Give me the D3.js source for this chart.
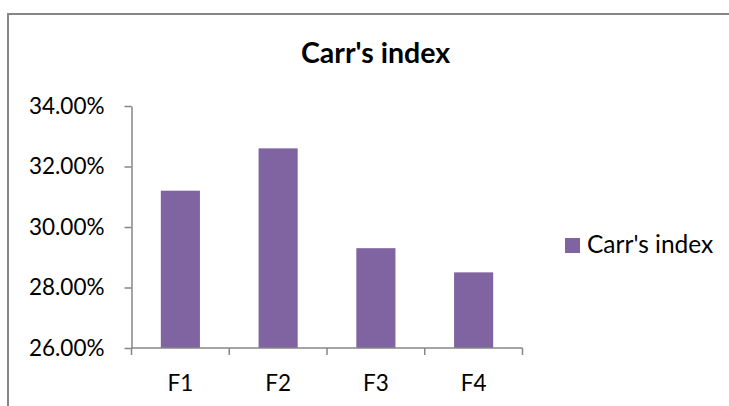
<!DOCTYPE html>
<html>
<head>
<meta charset="utf-8">
<script src="https://cdn.jsdelivr.net/npm/d3@7"></script>
<style>
  body { margin: 0; background: white; }
  text { font-family: Lato, "Open Sans", sans-serif; fill: #000; }
</style>
</head>
<body>
<div id="chart"></div>
<script>
const categories = ["F1", "F2", "F3", "F4"];
const carrValues = [31.2, 32.6, 29.3, 28.5];
const yTicks = [26, 28, 30, 32, 34];
const seriesName = "Carr's index";
const chartTitle = "Carr's index";

const w = 729;
const h = 406;
const plotLeft = 131.5;
const plotRight = 522.5;
const plotTop = 106;
const plotBottom = 348;
const axisColor = "#868686";
const barColor = "#8064A2";

const svg = d3.select("#chart")
  .append("svg")
  .attr("width", w)
  .attr("height", h);

// outer frame (left + top only visible)
svg.append("path")
  .attr("d", `M8,${h} L8,14 L${w},14`)
  .attr("fill", "none")
  .attr("stroke", axisColor)
  .attr("stroke-width", 2);

svg.append("text")
  .attr("x", 375.5)
  .attr("y", 63)
  .attr("text-anchor", "middle")
  .style("font-size", "28.5px")
  .style("font-weight", "bold")
  .text(chartTitle);

const x = d3.scaleBand()
  .domain(categories)
  .range([plotLeft, plotRight])
  .paddingInner(0.6)
  .paddingOuter(0.3);

const y = d3.scaleLinear()
  .domain([26, 34])
  .range([plotBottom, plotTop]);

svg.selectAll("rect.bar")
  .data(carrValues)
  .enter()
  .append("rect")
  .attr("class", "bar")
  .attr("x", (d, i) => x(categories[i]))
  .attr("y", d => y(d))
  .attr("width", x.bandwidth())
  .attr("height", d => y(26) - y(d))
  .attr("fill", barColor);

// y axis
const yAxis = d3.axisLeft(y)
  .tickValues(yTicks)
  .tickFormat(d => d.toFixed(2) + "%")
  .tickSize(7)
  .tickSizeOuter(0)
  .tickPadding(20);

const gy = svg.append("g")
  .attr("transform", `translate(${plotLeft},0)`)
  .call(yAxis);
gy.select(".domain").attr("stroke", axisColor).attr("stroke-width", 1.5);
gy.selectAll(".tick line").attr("stroke", axisColor).attr("stroke-width", 1.5);
gy.selectAll(".tick text")
  .style("font-size", "22.5px")
  .style("font-family", "Lato, sans-serif")
  .attr("fill", "#000");

// x axis line + boundary ticks
const step = x.step();
const boundaries = d3.range(categories.length + 1).map(i => plotLeft + i * step);

svg.append("line")
  .attr("x1", plotLeft)
  .attr("x2", plotRight)
  .attr("y1", plotBottom)
  .attr("y2", plotBottom)
  .attr("stroke", axisColor)
  .attr("stroke-width", 1.5);

svg.selectAll("line.xtick")
  .data(boundaries)
  .enter()
  .append("line")
  .attr("class", "xtick")
  .attr("x1", d => d)
  .attr("x2", d => d)
  .attr("y1", plotBottom)
  .attr("y2", plotBottom + 7)
  .attr("stroke", axisColor)
  .attr("stroke-width", 1.5);

svg.selectAll("text.xlabel")
  .data(categories)
  .enter()
  .append("text")
  .attr("class", "xlabel")
  .attr("x", d => x(d) + x.bandwidth() / 2)
  .attr("y", 391)
  .attr("text-anchor", "middle")
  .style("font-size", "22.5px")
  .text(d => d);

// legend
const legend = svg.append("g").attr("transform", "translate(565,238)");
legend.append("rect")
  .attr("width", 15)
  .attr("height", 15)
  .attr("fill", barColor);
legend.append("text")
  .attr("x", 22)
  .attr("y", 15)
  .style("font-size", "24.5px")
  .text(seriesName);
</script>
</body>
</html>
